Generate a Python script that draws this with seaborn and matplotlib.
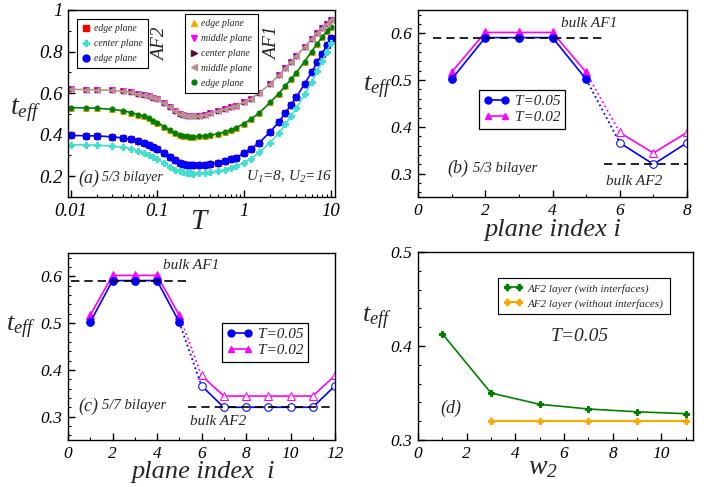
import numpy as np
import pandas as pd
import matplotlib
matplotlib.use("Agg")
import matplotlib.pyplot as plt
import seaborn as sns
from matplotlib.lines import Line2D
from matplotlib.ticker import MultipleLocator, LogLocator, NullFormatter

# ---------------- data ----------------
T_a = [0.01, 0.015, 0.02, 0.03, 0.04, 0.05, 0.06, 0.07, 0.08, 0.09, 0.1, 0.12, 0.14, 0.16,
       0.18, 0.2, 0.22, 0.24, 0.26, 0.3, 0.35, 0.4, 0.5, 0.6, 0.7, 0.8, 1.0, 1.2, 1.5, 2.0,
       2.5, 3.0, 3.5, 4.0, 5.0, 6.0, 7.0, 8.0, 9.0, 10.0]
af1_middle = [0.618, 0.617, 0.616, 0.613, 0.608, 0.603, 0.597, 0.591, 0.585, 0.577, 0.570,
              0.553, 0.532, 0.513, 0.501, 0.495, 0.491, 0.489, 0.489, 0.492, 0.497, 0.503,
              0.513, 0.522, 0.531, 0.539, 0.556, 0.574, 0.601, 0.645, 0.685, 0.721, 0.752,
              0.778, 0.822, 0.862, 0.890, 0.912, 0.933, 0.952]
af1_edge = [0.530, 0.529, 0.527, 0.522, 0.515, 0.506, 0.497, 0.488, 0.478, 0.468, 0.458,
            0.438, 0.421, 0.407, 0.398, 0.394, 0.392, 0.391, 0.391, 0.392, 0.394, 0.397,
            0.404, 0.413, 0.423, 0.433, 0.453, 0.475, 0.505, 0.555, 0.597, 0.635, 0.668,
            0.698, 0.752, 0.800, 0.838, 0.870, 0.897, 0.920]
af2_edge = [0.396, 0.395, 0.394, 0.390, 0.384, 0.377, 0.368, 0.360, 0.350, 0.340, 0.330,
            0.310, 0.291, 0.276, 0.265, 0.259, 0.256, 0.254, 0.253, 0.254, 0.256, 0.259,
            0.266, 0.273, 0.281, 0.290, 0.310, 0.332, 0.362, 0.413, 0.460, 0.505, 0.545,
            0.580, 0.645, 0.700, 0.748, 0.790, 0.830, 0.864]
af2_center = [0.352, 0.351, 0.349, 0.345, 0.339, 0.331, 0.322, 0.313, 0.303, 0.292, 0.282,
              0.262, 0.245, 0.232, 0.223, 0.218, 0.215, 0.214, 0.213, 0.214, 0.216, 0.219,
              0.225, 0.232, 0.240, 0.248, 0.265, 0.285, 0.315, 0.362, 0.406, 0.450, 0.490,
              0.527, 0.594, 0.652, 0.705, 0.755, 0.800, 0.840]

plane_b = [1, 2, 3, 4, 5, 6, 7, 8]
b_T005 = [0.502, 0.591, 0.591, 0.591, 0.502, 0.366, 0.320, 0.366]
b_T002 = [0.517, 0.602, 0.602, 0.602, 0.517, 0.388, 0.344, 0.388]

plane_c = [1, 2, 3, 4, 5, 6, 7, 8, 9, 10, 11, 12]
c_T005 = [0.502, 0.591, 0.591, 0.591, 0.502, 0.366, 0.320, 0.320, 0.320, 0.320, 0.320, 0.366]
c_T002 = [0.517, 0.602, 0.602, 0.602, 0.517, 0.388, 0.344, 0.344, 0.344, 0.344, 0.344, 0.388]

bulk_af1 = 0.591
bulk_af2 = 0.320

w2_with = [1, 3, 5, 7, 9, 11]
teff_with = [0.413, 0.350, 0.338, 0.333, 0.330, 0.328]
w2_without = [3, 5, 7, 9, 11]
teff_without = [0.320, 0.320, 0.320, 0.320, 0.320]

# ---------------- style ----------------
sns.set_theme(style="ticks")
plt.rcParams.update({
    "font.family": ["Liberation Serif", "DejaVu Serif"],
    "font.style": "italic",
    "mathtext.fontset": "custom",
    "mathtext.it": "Liberation Serif:italic",
    "mathtext.rm": "Liberation Serif:italic",
    "mathtext.default": "it",
    "axes.edgecolor": "black",
    "axes.linewidth": 1.0,
    "xtick.direction": "in",
    "ytick.direction": "in",
    "xtick.color": "black",
    "ytick.color": "black",
    "xtick.major.size": 5,
    "ytick.major.size": 5,
    "xtick.minor.size": 2.5,
    "ytick.minor.size": 2.5,
    "xtick.major.width": 1.0,
    "ytick.major.width": 1.0,
    "xtick.minor.width": 0.8,
    "ytick.minor.width": 0.8,
    "xtick.minor.visible": True,
    "ytick.minor.visible": True,
    "legend.frameon": True,
})

W, H = 722, 487
fig = plt.figure(figsize=(W / 100, H / 100), dpi=100)
fig.patch.set_facecolor("white")


def add_ax(l, t, r, b):
    return fig.add_axes([l / W, 1 - b / H, (r - l) / W, (b - t) / H])


def sline(ax, x, y, **kw):
    sns.lineplot(x=list(x), y=list(y), ax=ax, sort=False, estimator=None, **kw)


def set_labels(ax, xl, xfs, xpos, yl, yfs, ypos):
    ax.set_xlabel(xl, fontsize=xfs, va="center")
    ax.xaxis.set_label_coords(*xpos)
    ax.set_ylabel(yl, fontsize=yfs, rotation=0, ha="center", va="center")
    ax.yaxis.set_label_coords(*ypos)


BLUE = "#0000ff"
MAG = "#ff00ff"
CYAN = "#40e0d0"
GREEN = "#008000"
ORANGE = "#ffa500"
ROSY = "#bc8f8f"
PURP = "#5c0a3a"
RED = "#ff0000"

# ---------------- panel (a) ----------------
axa = add_ax(68, 10, 335, 197)
axa.set_xscale("log")
sline(axa, T_a, af2_edge, color=RED, marker="s", markersize=4, linestyle="", mec=RED)
sline(axa, T_a, af2_edge, color=BLUE, marker="o", markersize=5, lw=1.2, mec=BLUE)
sline(axa, T_a, af2_center, color=CYAN, marker="P", markersize=5, lw=1.2, mec=CYAN)
sline(axa, T_a, af1_edge, color=ORANGE, marker="^", markersize=4.5, linestyle="", mec=ORANGE)
sline(axa, T_a, af1_edge, color=GREEN, marker="o", markersize=3.5, lw=1.2, mec=GREEN)
sline(axa, T_a, af1_middle, color=MAG, marker="v", markersize=4.5, linestyle="", mec=MAG)
sline(axa, T_a, af1_middle, color=PURP, marker=">", markersize=3.5, linestyle="", mec=PURP)
sline(axa, T_a, af1_middle, color=ROSY, marker="<", markersize=4, lw=1.2, mec=ROSY)

axa.set_xlim(0.0093, 11.2)
axa.set_ylim(0.1, 1.0)
axa.set_xticks([0.01, 0.1, 1, 10])
axa.set_xticklabels(["0.01", "0.1", "1", "10"])
axa.xaxis.set_minor_locator(LogLocator(base=10, subs=np.arange(2, 10)))
axa.xaxis.set_minor_formatter(NullFormatter())
axa.set_yticks([0.2, 0.4, 0.6, 0.8, 1.0])
axa.set_yticklabels(["0.2", "0.4", "0.6", "0.8", "1"])
axa.yaxis.set_minor_locator(MultipleLocator(0.1))
axa.tick_params(labelsize=13.5, pad=4)
set_labels(axa, "$T$", 21, (0.494, -0.134), "$t_{eff}$", 20, (-0.16, 0.465))

legkw = dict(loc="upper left", fontsize=7, fancybox=False, edgecolor="black", framealpha=1,
             handlelength=0.7, handletextpad=0.45, labelspacing=0.6, borderpad=0.55,
             borderaxespad=0)
h1 = [Line2D([], [], color=RED, marker="s", ls="", ms=4),
      Line2D([], [], color=CYAN, marker="P", ls="", ms=5),
      Line2D([], [], color=BLUE, marker="o", ls="", ms=5)]
leg1 = axa.legend(h1, ["edge plane", "center plane", "edge plane"],
                  bbox_to_anchor=(0.034, 0.952), **legkw)
leg1.get_frame().set_linewidth(0.8)
axa.add_artist(leg1)
h2 = [Line2D([], [], color=ORANGE, marker="^", ls="", ms=4.5),
      Line2D([], [], color=MAG, marker="v", ls="", ms=4.5),
      Line2D([], [], color=PURP, marker=">", ls="", ms=4),
      Line2D([], [], color=ROSY, marker="<", ls="", ms=4.5),
      Line2D([], [], color=GREEN, marker="o", ls="", ms=3.5)]
leg2 = axa.legend(h2, ["edge plane", "middle plane", "center plane", "middle plane", "edge plane"],
                  bbox_to_anchor=(0.438, 0.979), **legkw)
leg2.get_frame().set_linewidth(0.8)

axa.text(0.348, 0.815, "AF2", transform=axa.transAxes, rotation=90, fontsize=14,
         ha="center", va="center", zorder=20)
axa.text(0.768, 0.824, "AF1", transform=axa.transAxes, rotation=90, fontsize=14,
         ha="center", va="center", zorder=20)
axa.text(0.037, 0.102, "(a)", transform=axa.transAxes, fontsize=13, ha="left", va="center")
axa.text(0.127, 0.102, "5/3 bilayer", transform=axa.transAxes, fontsize=10, ha="left", va="center")
axa.text(0.99, 0.107, "$U_1$=8, $U_2$=16", transform=axa.transAxes, fontsize=11,
         ha="right", va="center")


# ---------------- panels (b), (c) ----------------
def plane_panel(ax, planes, v005, v002, n):
    # T=0.02 magenta
    sline(ax, planes[:n], v002[:n], color=MAG, marker="^", markersize=5.5, lw=1.2, mec=MAG)
    sline(ax, planes[n - 1:n + 1], v002[n - 1:n + 1], color=MAG, lw=1.3, linestyle=":")
    sline(ax, planes[n:], v002[n:], color=MAG, marker="^", markersize=5.5, lw=1.2,
          mec=MAG, mfc="white")
    # T=0.05 blue
    sline(ax, planes[:n], v005[:n], color=BLUE, marker="o", markersize=5.5, lw=1.2, mec=BLUE)
    sline(ax, planes[n - 1:n + 1], v005[n - 1:n + 1], color=BLUE, lw=1.3, linestyle=":")
    sline(ax, planes[n:], v005[n:], color=BLUE, marker="o", markersize=5.5, lw=1.2,
          mec=BLUE, mfc="white")
    ax.set_ylim(0.25, 0.65)
    ax.set_yticks([0.3, 0.4, 0.5, 0.6])
    ax.set_yticklabels(["0.3", "0.4", "0.5", "0.6"])
    ax.yaxis.set_minor_locator(MultipleLocator(0.02))
    ax.xaxis.set_major_locator(MultipleLocator(2))
    ax.xaxis.set_minor_locator(MultipleLocator(1))
    ax.tick_params(labelsize=12.5, pad=4)
    return [Line2D([], [], color=BLUE, marker="o", ms=5, lw=1.2),
            Line2D([], [], color=MAG, marker="^", ms=5, lw=1.2)]


pleg = dict(loc="upper left", fontsize=11, fancybox=False, edgecolor="black", framealpha=1,
            numpoints=2, handlelength=1.7, handletextpad=0.35, labelspacing=0.15,
            borderpad=0.3, borderaxespad=0)

axb = add_ax(418, 10, 687, 197)
hl = plane_panel(axb, plane_b, b_T005, b_T002, 5)
axb.set_xlim(0, 8)
axb.plot([0.45, 5.52], [bulk_af1, bulk_af1], color="black", ls=(0, (5, 3)), lw=1.2)
axb.plot([5.52, 8.0], [bulk_af2, bulk_af2], color="black", ls=(0, (5, 3)), lw=1.2)
axb.text(4.25, 0.621, "bulk AF1", fontsize=11, ha="left", va="center")
axb.text(5.6, 0.283, "bulk AF2", fontsize=11, ha="left", va="center")
lg = axb.legend(hl, ["T=0.05", "T=0.02"], bbox_to_anchor=(0.227, 0.572), **pleg)
lg.get_frame().set_linewidth(0.9)
axb.text(0.108, 0.152, "(b)", transform=axb.transAxes, fontsize=13, ha="left", va="center")
axb.text(0.205, 0.152, "5/3 bilayer", transform=axb.transAxes, fontsize=10.5, ha="left", va="center")
set_labels(axb, "plane index i", 19, (0.502, -0.176), "$t_{eff}$", 19, (-0.15, 0.585))

axc = add_ax(68, 253, 335, 440)
hl = plane_panel(axc, plane_c, c_T005, c_T002, 5)
axc.set_xlim(0, 12)
axc.plot([0.15, 5.55], [bulk_af1, bulk_af1], color="black", ls=(0, (5, 3)), lw=1.2)
axc.plot([5.4, 11.9], [bulk_af2, bulk_af2], color="black", ls=(0, (5, 3)), lw=1.2)
axc.text(4.27, 0.623, "bulk AF1", fontsize=11, ha="left", va="center")
axc.text(5.5, 0.289, "bulk AF2", fontsize=11, ha="left", va="center")
lg = axc.legend(hl, ["T=0.05", "T=0.02"], bbox_to_anchor=(0.577, 0.626), **pleg)
lg.get_frame().set_linewidth(0.9)
axc.text(0.037, 0.182, "(c)", transform=axc.transAxes, fontsize=13, ha="left", va="center")
axc.text(0.127, 0.182, "5/7 bilayer", transform=axc.transAxes, fontsize=10.5, ha="left", va="center")
set_labels(axc, "plane index  i", 19, (0.506, -0.17), "$t_{eff}$", 19, (-0.175, 0.6))

# ---------------- panel (d) ----------------
axd = add_ax(418, 252, 693, 440)
sline(axd, w2_with, teff_with, color=GREEN, marker="P", markersize=5, lw=1.2, mec=GREEN)
sline(axd, w2_without, teff_without, color=ORANGE, marker="P", markersize=5, lw=1.5, mec=ORANGE)
axd.set_xlim(0, 11.3)
axd.set_ylim(0.3, 0.5)
axd.set_yticks([0.3, 0.4, 0.5])
axd.set_yticklabels(["0.3", "0.4", "0.5"])
axd.yaxis.set_minor_locator(MultipleLocator(0.02))
axd.xaxis.set_major_locator(MultipleLocator(2))
axd.xaxis.set_minor_locator(MultipleLocator(1))
axd.tick_params(labelsize=12.5, pad=4)
hd = [Line2D([], [], color=GREEN, marker="P", ms=4.5, lw=1.2),
      Line2D([], [], color=ORANGE, marker="P", ms=4.5, lw=1.5)]
lg = axd.legend(hd, ["AF2 layer (with interfaces)", "AF2 layer (without interfaces)"],
                loc="upper left", bbox_to_anchor=(0.291, 0.862), fontsize=8,
                fancybox=False, edgecolor="black", framealpha=1, numpoints=2,
                handlelength=1.7, handletextpad=0.5, labelspacing=0.45, borderpad=0.5,
                borderaxespad=0)
lg.get_frame().set_linewidth(0.8)
axd.text(0.589, 0.553, "T=0.05", transform=axd.transAxes, fontsize=14, ha="center", va="center")
axd.text(0.08, 0.17, "(d)", transform=axd.transAxes, fontsize=13, ha="left", va="center")
set_labels(axd, "$w_2$", 20, (0.455, -0.149), "$t_{eff}$", 19, (-0.15, 0.649))

for ax in (axa, axb, axc, axd):
    ax.tick_params(which="both", top=False, right=False)
    for s in ax.spines.values():
        s.set_color("black")
        s.set_linewidth(1.0)

fig.savefig("out.png", dpi=100, facecolor="white")
